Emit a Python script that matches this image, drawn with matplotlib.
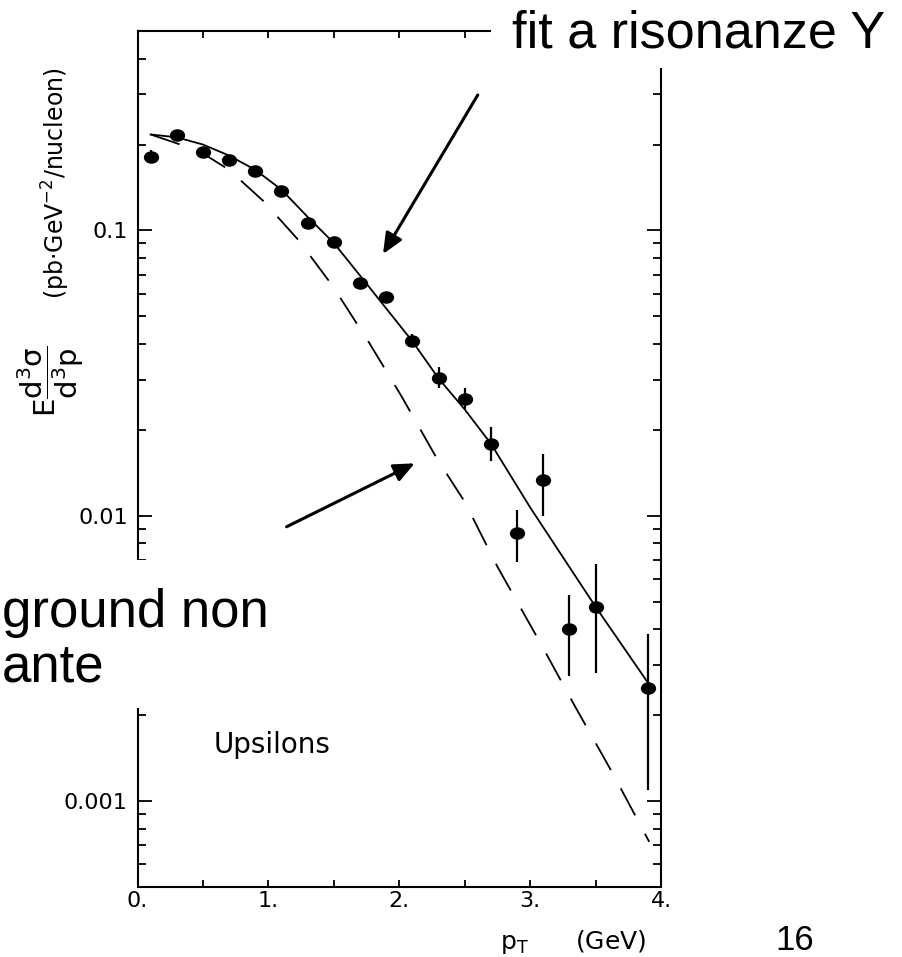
import numpy as np
import matplotlib
matplotlib.use("Agg")
import matplotlib.pyplot as plt
from matplotlib.patches import Rectangle
from matplotlib.path import Path
from matplotlib.transforms import Affine2D
from matplotlib.ticker import LogLocator, NullFormatter

plt.rcParams['font.family'] = ['DejaVu Sans']
plt.rcParams['mathtext.default'] = 'regular'
plt.rcParams['lines.scale_dashes'] = False

# --- dati (Upsilon) ---
pt = [0.1, 0.3, 0.5, 0.7, 0.9, 1.1, 1.3, 1.5, 1.7, 1.9,
      2.1, 2.3, 2.5, 2.7, 2.9, 3.1, 3.3, 3.5, 3.9]
sigma = [0.181, 0.216, 0.189, 0.176, 0.162, 0.1375, 0.106, 0.0908, 0.0656, 0.0586,
         0.0411, 0.0305, 0.0257, 0.0179, 0.0087, 0.0133, 0.0040, 0.0048, 0.0025]
sigma_lo = [0.172, 0.210, 0.184, 0.171, 0.158, 0.134, 0.103, 0.088, 0.0638, 0.057,
            0.0389, 0.0281, 0.0236, 0.0156, 0.0069, 0.0100, 0.00275, 0.00282, 0.00109]
sigma_hi = [0.191, 0.222, 0.194, 0.181, 0.167, 0.141, 0.109, 0.093, 0.0674, 0.0602,
            0.0434, 0.0331, 0.0280, 0.0205, 0.0105, 0.0164, 0.00528, 0.00678, 0.00384]

# fit a risonanze (linea continua)
fit_pt = [0.1, 0.3, 0.5, 0.7, 0.9, 1.1, 1.3, 1.5, 1.7, 2.1, 2.3, 2.5, 2.7, 3.0, 3.5, 3.9]
fit_val = [0.217, 0.212, 0.200, 0.183, 0.163, 0.139, 0.1115, 0.0904, 0.0695,
           0.0409, 0.0303, 0.0236, 0.0179, 0.0107, 0.0048, 0.0026]

# fondo non risonante (tratteggio)
bkg_pt = [0.1, 0.47, 0.70, 0.96, 1.23, 1.49, 1.77, 2.02, 2.29, 2.50, 2.75, 3.08, 3.34, 3.64, 3.91]
bkg_val = [0.217, 0.190, 0.163, 0.127, 0.0925, 0.064, 0.0404, 0.0261, 0.0158,
           0.0112, 0.00663, 0.00357, 0.00216, 0.00123, 0.00072]

x_ticks = [0, 1, 2, 3, 4]
x_tick_labels = ['0.', '1.', '2.', '3.', '4.']
x_minor = [0.5, 1.5, 2.5, 3.5]
y_ticks = [0.001, 0.01, 0.1]
y_tick_labels = ['0.001', '0.01', '0.1']

W, H = 902, 957
fig = plt.figure(figsize=(W / 100, H / 100), dpi=100)
ax = fig.add_axes([137.5 / W, 1 - 887 / H, 523.5 / W, 856 / H])
ax.set_yscale('log')
ax.set_xlim(0, 4)
ax.set_ylim(5e-4, 0.5)

# punti con barre d'errore (marker leggermente ellittico come nella scansione)
ellisse = Path.unit_circle().transformed(Affine2D().scale(1.25, 1.0))
err_lo = np.array(sigma) - np.array(sigma_lo)
err_hi = np.array(sigma_hi) - np.array(sigma)
ax.errorbar(pt, sigma, yerr=[err_lo, err_hi], fmt='none', ecolor='black',
            elinewidth=1.6, capsize=0, zorder=3)
ax.plot(pt, sigma, linestyle='none', marker=ellisse, markersize=10,
        color='black', zorder=4)

ax.plot(fit_pt, fit_val, color='black', lw=1.3, zorder=2)
ax.plot(bkg_pt, bkg_val, color='black', lw=1.3, dashes=(22, 15), zorder=2)

# assi
ax.set_xticks(x_ticks, labels=x_tick_labels)
ax.set_xticks(x_minor, minor=True)
ax.set_yticks(y_ticks, labels=y_tick_labels)
ax.yaxis.set_minor_locator(LogLocator(base=10, subs=np.arange(2, 10)))
ax.yaxis.set_minor_formatter(NullFormatter())
ax.tick_params(axis='both', which='both', direction='in', top=True, right=True,
               width=1.3, color='black')
ax.tick_params(axis='x', which='both', length=5, pad=3, labelsize=16)
ax.tick_params(axis='y', which='major', length=10, pad=7, labelsize=16)
ax.tick_params(axis='y', which='minor', length=5.5)
for sp in ax.spines.values():
    sp.set_linewidth(1.5)

ax.set_xlabel('p$_\\mathrm{T}$      (GeV)', fontsize=18, loc='right')
ax.xaxis.set_label_coords(0.973, -0.048)
ax.set_ylabel('(pb·GeV$^{-2}$/nucleon)', fontsize=17, loc='top')
ax.yaxis.set_label_coords(-0.125, 0.957)
ax.text(-0.167, 0.591, r'$E\dfrac{d^3\sigma}{d^3p}$', transform=ax.transAxes,
        fontsize=21, rotation=90, ha='center', va='center', rotation_mode='anchor')

ax.text(0.579, 0.00148, 'Upsilons', fontsize=20, va='baseline')

# frecce sovrapposte
stile = dict(arrowstyle='-|>,head_length=0.5,head_width=0.22', color='black',
             lw=2.2, shrinkA=0, shrinkB=0, mutation_scale=25)
ax.annotate('', xy=(1.876, 0.0827), xytext=(2.60, 0.2984), arrowprops=stile)
ax.annotate('', xy=(2.118, 0.01527), xytext=(1.139, 0.00915), arrowprops=stile)

# riquadri bianchi e testi della slide
fig.add_artist(Rectangle((491 / W, 1 - 68 / H), 411 / W, 68 / H, transform=fig.transFigure,
                         facecolor='white', edgecolor='none', zorder=5))
fig.add_artist(Rectangle((0, 1 - 708 / H), 300 / W, 148 / H, transform=fig.transFigure,
                         facecolor='white', edgecolor='none', zorder=5))
fig.text(512 / W, 1 - 47 / H, 'fit a risonanze Y', fontsize=37.5,
         family='Liberation Sans', va='baseline', zorder=6)
fig.text(0.002, 1 - 626.7 / H, 'ground non', fontsize=38,
         family='Liberation Sans', va='baseline', zorder=6)
fig.text(0.002, 1 - 681.7 / H, 'ante', fontsize=38,
         family='Liberation Sans', va='baseline', zorder=6)
fig.text(775 / W, 1 - 950 / H, '16', fontsize=25,
         family='Liberation Sans', va='baseline', zorder=6)

fig.savefig('out.png', dpi=100)
